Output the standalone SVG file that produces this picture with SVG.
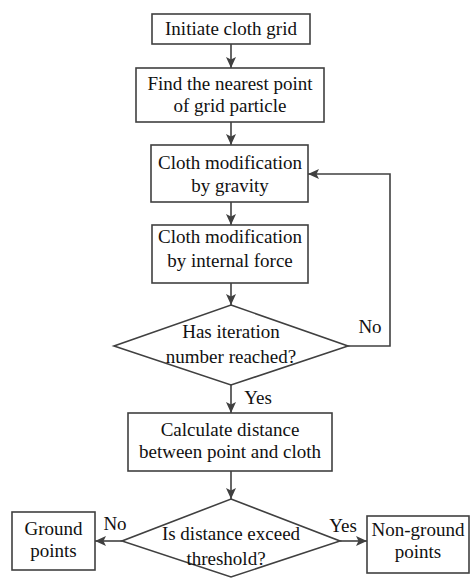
<svg xmlns="http://www.w3.org/2000/svg" width="470" height="578" viewBox="0 0 470 578" font-family="Liberation Serif, Tinos, Times New Roman, serif">
<defs>
<marker id="arr" markerUnits="userSpaceOnUse" markerWidth="11" markerHeight="10" refX="11" refY="5" orient="auto">
<path d="M0,0 L11,5 L0,10 L2.5,5 z" fill="#404040"/>
</marker>
</defs>
<style>
.n{fill:#fff;stroke:#404040;stroke-width:1.6}
.t{font-family:'Liberation Serif',Tinos,'Times New Roman',serif;font-size:19px;fill:#111;text-anchor:middle}
.c{fill:none;stroke:#404040;stroke-width:1.6;marker-end:url(#arr)}
</style>
<rect width="470" height="578" fill="#fff"/>
<g id="connectors">
<path class="c" d="M231,44 V68"/>
<path class="c" d="M231,122 V145"/>
<path class="c" d="M231,202 V225"/>
<path class="c" d="M231,283 V305"/>
<path class="c" d="M348,346 H390 V174 H308"/>
<path class="c" d="M231,385 V413"/>
<path class="c" d="M231,471 V499"/>
<path class="c" d="M122,541 H95"/>
<path class="c" d="M340,541 H367"/>
<text class="t" x="115" y="530">No</text>
<text class="t" x="343" y="532">Yes</text>
<text class="t" x="370" y="333">No</text>
<text class="t" x="258" y="404">Yes</text>
</g>
<g id="n1"><rect class="n" x="152" y="14" width="158" height="30"/><text class="t" x="231" y="35">Initiate cloth grid</text></g>
<g id="n2"><rect class="n" x="136" y="68" width="188" height="54"/><text class="t" x="230" y="90">Find the nearest point</text><text class="t" x="230" y="112">of grid particle</text></g>
<g id="n3"><rect class="n" x="151" y="145" width="157" height="57"/><text class="t" x="230" y="169">Cloth modification</text><text class="t" x="230" y="192">by gravity</text></g>
<g id="n4"><rect class="n" x="152" y="225" width="156" height="58"/><text class="t" x="230" y="243">Cloth modification</text><text class="t" x="230" y="267">by internal force</text></g>
<g id="n5"><polygon class="n" points="231,305 348,346 231,385 114,346"/><text class="t" x="231" y="338">Has iteration</text><text class="t" x="231" y="363">number reached?</text></g>
<g id="n6"><rect class="n" x="128" y="413" width="204" height="58"/><text class="t" x="230" y="436">Calculate distance</text><text class="t" x="230" y="458">between  point and cloth</text></g>
<g id="n7"><polygon class="n" points="231,499 340,541 231,577 122,541"/><text class="t" x="231" y="540">Is distance exceed</text><text class="t" x="226" y="565">threshold?</text></g>
<g id="n8"><rect class="n" x="12" y="512" width="83" height="58"/><text class="t" x="53.5" y="535">Ground</text><text class="t" x="53.5" y="557">points</text></g>
<g id="n9"><rect class="n" x="367" y="516" width="102" height="57"/><text class="t" x="418" y="536">Non-ground</text><text class="t" x="418" y="558">points</text></g>
</svg>
